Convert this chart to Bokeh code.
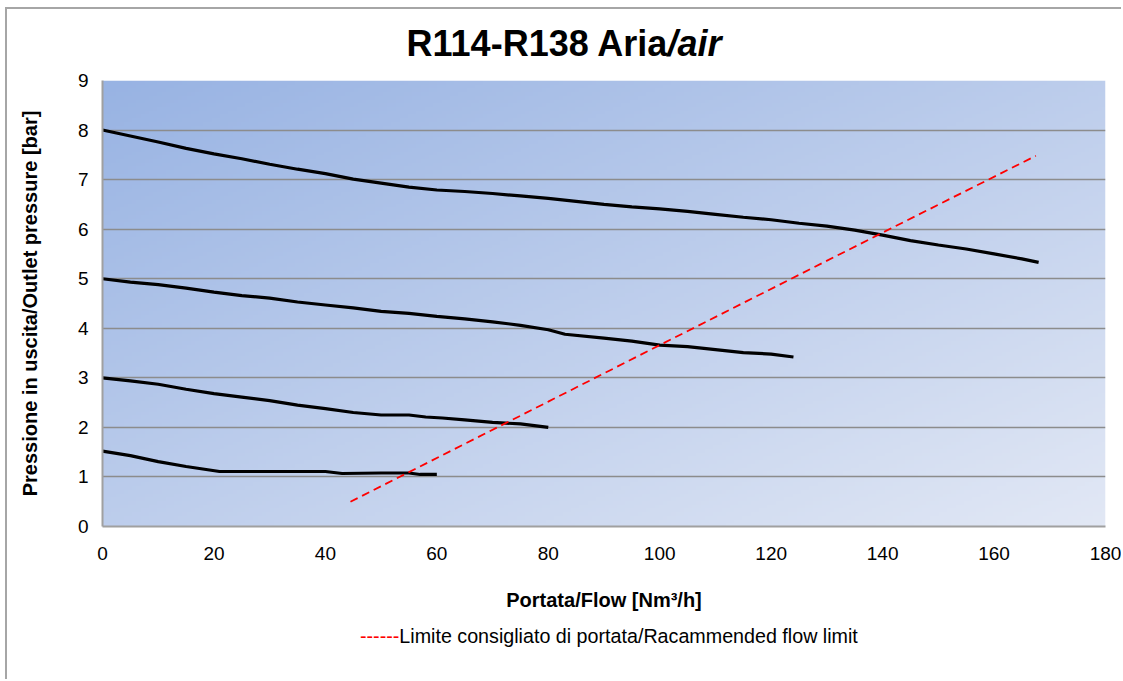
import numpy as np
from bokeh.plotting import figure
from bokeh.models import Range1d, FixedTicker, Div
from bokeh.layouts import column
from bokeh.embed import file_html
from bokeh.resources import INLINE

# ---- data ----
x_8bar = [0, 5, 10, 15, 20, 25, 30, 35, 40, 45, 50, 55, 60, 65, 70, 75, 80, 85, 90, 95,
          100, 105, 110, 115, 120, 125, 130, 135, 140, 145, 150, 155, 160, 165, 168]
y_8bar = [8.0, 7.88, 7.76, 7.63, 7.52, 7.42, 7.31, 7.21, 7.12, 7.01, 6.93, 6.85, 6.79, 6.76, 6.72,
          6.67, 6.62, 6.56, 6.50, 6.45, 6.41, 6.36, 6.30, 6.24, 6.19, 6.12, 6.06, 5.98, 5.88,
          5.77, 5.68, 5.60, 5.50, 5.40, 5.33]

x_5bar = [0, 5, 10, 15, 20, 25, 30, 35, 40, 45, 50, 55, 60, 65, 70, 75, 80, 83, 90, 95,
          100, 105, 110, 115, 120, 124]
y_5bar = [5.0, 4.93, 4.88, 4.81, 4.73, 4.66, 4.61, 4.53, 4.47, 4.41, 4.34, 4.30, 4.24, 4.19,
          4.13, 4.06, 3.97, 3.88, 3.80, 3.74, 3.66, 3.63, 3.57, 3.51, 3.48, 3.42]

x_3bar = [0, 5, 10, 15, 20, 25, 30, 35, 40, 45, 50, 55, 58, 61, 65, 70, 75, 80]
y_3bar = [3.0, 2.94, 2.87, 2.77, 2.68, 2.61, 2.54, 2.45, 2.38, 2.30, 2.25, 2.25, 2.21, 2.19,
          2.15, 2.10, 2.07, 2.00]

x_15bar = [0, 5, 10, 15, 18, 21, 30, 40, 43, 50, 55, 57, 60]
y_15bar = [1.52, 1.43, 1.31, 1.21, 1.16, 1.11, 1.11, 1.11, 1.07, 1.08, 1.08, 1.05, 1.05]

x_limit = [44.5, 80, 100, 140, 167.5]
y_limit = [0.5, 2.52, 3.66, 5.93, 7.48]

x_ticks = [0, 20, 40, 60, 80, 100, 120, 140, 160, 180]
y_ticks = [0, 1, 2, 3, 4, 5, 6, 7, 8, 9]

title_main = "R114-R138 Aria"
title_ital = "/air"
x_label = "Portata/Flow [Nm\u00b3/h]"
y_label = "Pressione in uscita/Outlet pressure [bar]"
legend_key = "------"
legend_label = "Limite consigliato di portata/Racammended flow limit"

FONT = "Liberation Sans"
W = 1114
TITLE_H = 61
FIG_H = 545   # figure spans page y 70..615
LEG_H = 64

title_div = Div(
    text=f'<span>{title_main}</span><i>{title_ital}</i>',
    width=W, height=TITLE_H, margin=0,
    styles={"font-family": FONT, "font-size": "36px", "font-weight": "bold",
            "color": "black", "text-align": "center", "line-height": "40px",
            "padding-top": "15px", "box-sizing": "border-box",
            "white-space": "nowrap"})

p = figure(width=W, height=FIG_H, output_backend="svg", toolbar_location=None,
           x_range=Range1d(0, 180), y_range=Range1d(0, 9), margin=0,
           min_border_left=95, min_border_right=W - 95 - 1003, min_border_top=10,
           min_border_bottom=FIG_H - 10 - 446)
p.background_fill_color = None
p.border_fill_color = "white"
p.outline_line_color = None

# gradient background of the plot area
nr, nc = 120, 240
cols = np.linspace(0, 1, nc)[None, :]
rows = np.linspace(1, 0, nr)[:, None]  # row 0 = bottom
t = (cols + rows) / 2.0
c0 = np.array([0x98, 0xb3, 0xe3])
c1 = np.array([0xe2, 0xe8, 0xf5])
img = np.empty((nr, nc), dtype=np.uint32)
view = img.view(dtype=np.uint8).reshape((nr, nc, 4))
for k in range(3):
    view[:, :, k] = (c0[k] + (c1[k] - c0[k]) * t).astype(np.uint8)
view[:, :, 3] = 255
p.image_rgba(image=[img], x=0, y=0, dw=180, dh=9, level="image")

p.xgrid.visible = False
p.ygrid.grid_line_color = "#8c8c8c"
p.ygrid.grid_line_width = 1.5
p.ygrid.level = "underlay"
p.ygrid.ticker = FixedTicker(ticks=y_ticks)

for ax, ticks in ((p.xaxis[0], x_ticks), (p.yaxis[0], y_ticks)):
    ax.ticker = FixedTicker(ticks=ticks)
    ax.axis_line_color = "#a0a0a0"
    ax.axis_line_width = 2
    ax.major_tick_line_color = None
    ax.minor_tick_line_color = None
    ax.major_tick_out = 0
    ax.major_tick_in = 0
    ax.major_label_text_font = FONT
    ax.major_label_text_font_size = "19px"
    ax.major_label_text_color = "black"
    ax.axis_label_text_font = FONT
    ax.axis_label_text_font_size = "20px"
    ax.axis_label_text_font_style = "bold"
    ax.axis_label_text_color = "black"

p.xaxis.axis_label = x_label
p.yaxis.axis_label = y_label
p.xaxis.major_label_standoff = 20
p.yaxis.major_label_standoff = 14
p.xaxis.axis_label_standoff = 26
p.yaxis.axis_label_standoff = 34

for xs, ys in ((x_8bar, y_8bar), (x_5bar, y_5bar), (x_3bar, y_3bar), (x_15bar, y_15bar)):
    p.line(xs, ys, line_color="black", line_width=3.2)

p.line(x_limit, y_limit, line_color="#ff0000", line_width=1.8, line_dash="8 5")

legend_div = Div(
    text=f'<span style="color:#ff0000">{legend_key}</span>{legend_label}',
    width=W, height=LEG_H, margin=0,
    styles={"font-family": FONT, "font-size": "19.7px", "color": "black",
            "line-height": "22px", "padding-top": "10px", "padding-left": "353px",
            "box-sizing": "border-box", "white-space": "nowrap"})

layout = column(title_div, p, legend_div, spacing=0,
                styles={"border-left": "2px solid #a6a6a6", "border-top": "2px solid #a6a6a6",
                        "margin-left": "5px", "margin-top": "7px"})
open("out.html", "w").write(file_html(layout, INLINE))
